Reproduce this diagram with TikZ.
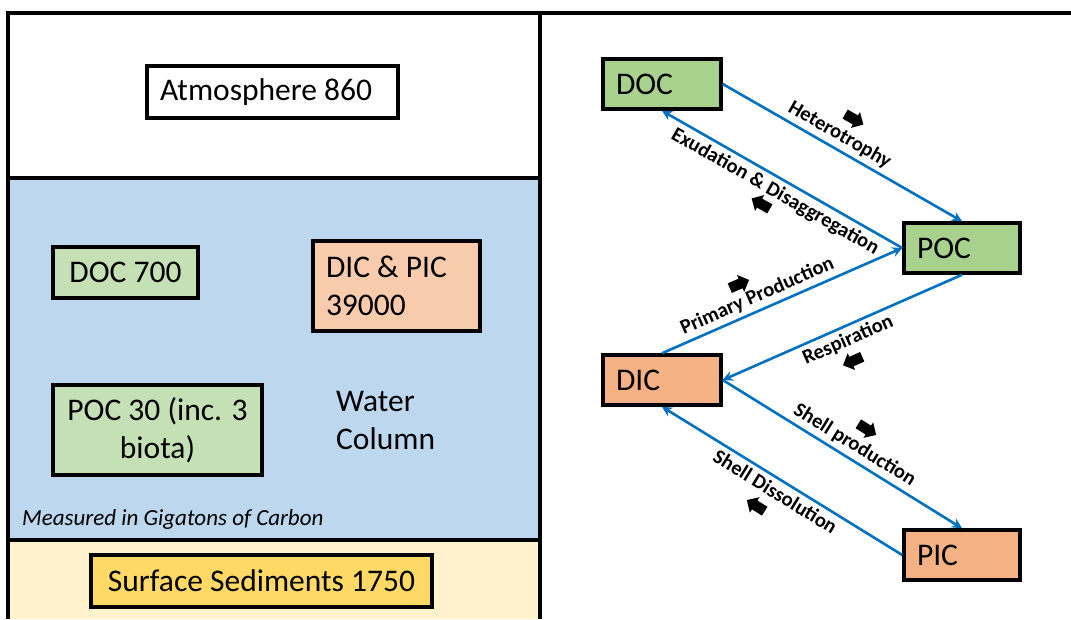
\documentclass[tikz,border=0pt]{standalone}
\usepackage{fontspec}
\setmainfont{Carlito}
\usetikzlibrary{shapes.arrows,positioning,arrows.meta,calc}
\definecolor{waterblue}{HTML}{BDD7EE}
\definecolor{sedcream}{HTML}{FFF2CC}
\definecolor{sedgold}{HTML}{FFD966}
\definecolor{orglight}{HTML}{C5E0B4}
\definecolor{orgdark}{HTML}{A9D18E}
\definecolor{inolight}{HTML}{F8CBAD}
\definecolor{inodark}{HTML}{F4B183}
\definecolor{flowblue}{HTML}{0070C0}
\tikzset{
    frameline/.style={
        line width=3.5pt,black
    },
    poolbox/.style={
        draw,line width=3.5pt,inner xsep=13pt,inner ysep=0pt,align=flush left,
        font=\fontsize{31.5}{38}\selectfont
    },
    flowline/.style={
        ->,flowblue,line width=2.6pt
    },
    flowlabel/.style={
        black,sloped,midway,inner sep=4pt,font=\fontsize{20.5}{24}\selectfont\bfseries
    },
    dirarrow/.style={
        single arrow,fill=black,inner sep=0pt,text height=10pt,text depth=0pt,
        minimum height=21pt,single arrow head extend=4pt
    }
}
\begin{document}
\begin{tikzpicture}[x=1pt,y=-1pt,>={Stealth[length=10pt,width=10pt]}]
\useasboundingbox (0,0) rectangle (1071,619);
% left panel: the three layers
\fill[white] (8,13) rectangle (540,178);
\fill[waterblue] (8,178) rectangle (540,540);
\fill[sedcream] (8,540) rectangle (540,619);
\draw[frameline] (8,619) -- (8,13) -- (1071,13);
\draw[frameline] (8,178) -- (540,178);
\draw[frameline] (8,540) -- (540,540);
\draw[frameline,line width=4.5pt] (540,13) -- (540,619);

\node[poolbox,fill=white,text width=225pt,minimum height=52pt] (atm) at (272.5,92) {Atmosphere 860};
\node[poolbox,fill=orglight,align=flush center,minimum width=145pt,minimum height=51pt] (doc700) at (125.5,272.5) {DOC 700};
\node[poolbox,fill=inolight,text width=141pt,minimum height=90pt] (dicpic) at (396.5,286) {DIC \& PIC\\39000};
\node[poolbox,fill=orglight,align=flush center,text width=183pt,minimum height=90pt] (poc30) at (157.5,430) {POC 30 (inc. 3\\biota)};
\node[anchor=west,align=left,inner sep=0pt,font=\fontsize{31.5}{38}\selectfont] (water) at (336,421) {Water\\Column};
\node[anchor=west,inner sep=0pt,font=\fontsize{23}{26}\selectfont\itshape] (units) at (22,519) {Measured in Gigatons of Carbon};
\node[poolbox,fill=sedgold,align=flush center,minimum width=341pt,minimum height=52pt] (sed) at (261.5,581) {Surface Sediments 1750};

% right panel: fluxes between pools
\node[poolbox,fill=orgdark,text width=92pt,minimum height=50pt] (doc) at (662,84) {DOC};
\node[poolbox,fill=orgdark,text width=90pt,minimum height=50pt] (poc) at (962,248) {POC};
\node[poolbox,fill=inodark,text width=92pt,minimum height=50pt] (dic) at (662,380) {DIC};
\node[poolbox,fill=inodark,text width=90pt,minimum height=50pt] (pic) at (962,555) {PIC};

\draw[flowline] (doc.east) -- node[flowlabel,above,pos=.46] (lhet) {Heterotrophy} (poc.north);
\draw[flowline] (poc.west) -- node[flowlabel,below] (lexu) {Exudation \& Disaggregation} (doc.south);
\draw[flowline] (dic.north) -- node[flowlabel,above,pos=.42] (lpri) {Primary Production} (poc.west);
\draw[flowline] (poc.south) -- node[flowlabel,below] (lres) {Respiration} (dic.east);
\draw[flowline] (dic.east) -- node[flowlabel,above,pos=.52] (lshp) {Shell production} (pic.north);
\draw[flowline] (pic.west) -- node[flowlabel,below] (lshd) {Shell Dissolution} (dic.south);

\node[dirarrow,rotate=-30] (ahet) at (852,118) {};
\node[dirarrow,rotate=150] (aexu) at (763,205) {};
\node[dirarrow,rotate=23] (apri) at (737,285) {};
\node[dirarrow,rotate=204] (ares) at (855,360) {};
\node[dirarrow,rotate=-32] (ashp) at (865,428) {};
\node[dirarrow,rotate=148] (ashd) at (758,507) {};
\end{tikzpicture}
\end{document}
